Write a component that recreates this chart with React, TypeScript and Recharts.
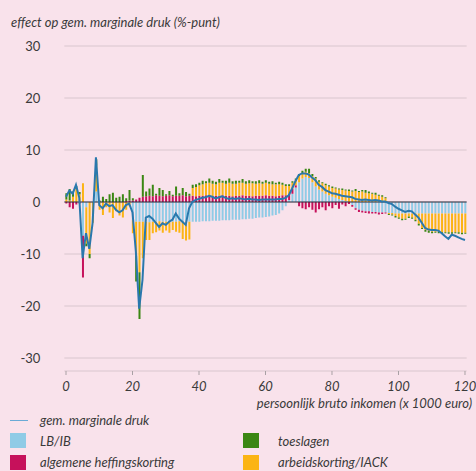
import React from 'react';
import {
    ComposedChart,
    Bar,
    Line,
    XAxis,
    YAxis,
    CartesianGrid,
    ReferenceLine,
} from 'recharts';

// inkomen in 1000 euro, één staaf per 1000 euro
const incomes = Array.from({ length: 121 }, (_, i) => i);

// LB/IB
const lbib = [
    0, 0, 0, 0, 0,
    -6.5, -1, 0, 0, 2,
    0, 0, 0, 0, 0, 0, 0, 0, 0, 0,
    -3.5, -3.8, -3.8, -3.8, -3.8, -3.9, -3.8, -3.8, -3.7, -3.8,
    -3.8, -3.9, -3.8, -3.8, -3.7, -3.8, -3.8, -3.8, -3.8, -3.8,
    -3.8, -3.7, -3.7, -3.7, -3.6, -3.6, -3.6, -3.5, -3.5, -3.5,
    -3.4, -3.4, -3.4, -3.3, -3.3, -3.2, -3.2, -3.1, -3.0, -3.0,
    -2.9, -2.8, -2.6, -2.5, -2.2, -1.6, -0.8, 0.4, 1.6, 2.8,
    3.8, 4.5, 4.8, 4.6, 3.8, 3.0, 2.4, 2.0, 1.6, 1.3,
    1.0, 0.8, 0.6, 0.4, 0.2, 0, -0.6, -1.2, -1.5, -1.7,
    -1.8, -1.8, -1.9, -1.9, -2.0, -2.0, -2.0, -2.1, -2.1, -2.2,
    -2.2, -2.2, -2.2, -2.2, -2.2, -2.2, -2.2, -2.2, -2.2, -2.2,
    -2.2, -2.2, -2.2, -2.2, -2.2, -2.2, -2.2, -2.2, -2.2, -2.2, -2.2,
];

// algemene heffingskorting
const ahk = [
    -0.3, -1.0, -1.3, -0.5, -0.3,
    -8.0, 0, 0, 0, 0,
    0, 0, 0, 0, 0, 0, 0, 0, 0.2, 0.3,
    0.3, 0.5, 0.8, 1.0, 1.1, 1.2, 1.1, 1.3, 1.2, 1.1,
    1.2, 1.3, 1.1, 1.2, 1.2, 1.3, 1.1, 1.2, 1.2, 1.1,
    1.2, 1.2, 1.3, 1.2, 1.1, 1.2, 1.2, 1.3, 1.2, 1.2,
    1.1, 1.2, 1.2, 1.3, 1.2, 1.2, 1.1, 1.2, 1.2, 1.2,
    1.3, 1.2, 1.2, 1.1, 1.2, 1.3, 1.3, 1.2, 0.9, 0.4,
    -0.8, -1.2, -1.4, -1.0, -1.5, -2.0, -1.4, -1.0, -1.6, -0.8,
    -1.2, -0.6, -1.3, -0.5, -0.8, -0.4, -0.3, -0.3, -0.4, -0.3,
    -0.3, -0.4, -0.3, -0.3, -0.4, -0.3, -0.2, 0, 0, 0,
    0, 0, 0, 0, 0, 0, 0, 0, 0, 0,
    0, 0, 0, 0, 0, 0, 0, 0, 0, 0, 0,
];

// toeslagen
const toeslagen = [
    1.2, 2.2, 1.0, 0.6, 0.4,
    0, -0.5, -0.8, 0, 1.2,
    0.3, 1.0, 0.6, 1.5, 1.8, 0.8, 1.0, 1.5, 0.5, 2.0,
    0.4, -5.0, -9.0, 4.2, 0.9, 1.4, 2.2, 0.3, 1.5, 1.2,
    0.3, 0.8, 0.3, 1.8, 0.5, 1.4, 0.8, 0.4, 0.6, 0.5,
    0.5, 0.7, 0.4, 0.8, 0.6, 0.5, 0.7, 0.4, 0.6, 0.8,
    0.5, 0.6, 0.4, 0.7, 0.5, 0.6, 0.4, 0.5, 0.6, 0.4,
    0.5, 0.4, 0.6, 0.3, 0.5, 0.4, 0.3, 0.3, 0.3, 0.3,
    0.4, 0.5, 0.6, 0.8, 0.4, 0.3, 0.3, 0.2, 0.3, 0.2,
    0.3, 0.2, 0.2, 0.3, 0.2, 0.3, 0.2, 0.4, 0.2, 0.3,
    0.5, 0.3, 0.2, 0.4, 0.2, 0.3, 0.2, -0.2, -0.2, -0.3,
    -0.2, -0.3, -0.2, -0.3, -0.2, -0.3, -0.3, -0.2, -0.3, -0.3,
    -0.3, -0.2, -0.3, -0.3, -0.2, -0.3, -0.3, -0.2, -0.3, -0.3, -0.2,
];

// arbeidskorting/IACK
const arbeidskorting = [
    0.5, 0.3, 1.0, 2.5, 1.5,
    3.6, -7.0, -10.0, -4.0, 5.0,
    -1.5, -2.5, -1.0, -2.0, -3.1, -1.8, -2.6, -3.0, -1.5, -0.8,
    -2.5, -6.5, -9.7, -7.0, -3.5, -3.4, -2.2, -2.0, -1.8, -2.1,
    -1.7, -2.0, -1.6, -1.9, -2.2, -3.3, -3.6, -3.4, 1.5, 1.8,
    2.0, 2.2, 2.3, 2.5, 2.4, 2.2, 2.5, 2.4, 2.3, 2.5,
    2.4, 2.3, 2.5, 2.4, 2.3, 2.4, 2.5, 2.3, 2.4, 2.3,
    2.4, 2.3, 2.2, 2.3, 2.2, 2.0, 1.8, 1.5, 1.2, 1.0,
    1.2, 1.0, 1.0, 1.0, 1.2, 1.5, 1.5, 1.6, 1.6, 1.7,
    1.7, 1.8, 1.8, 1.9, 2.0, 2.1, 2.0, 2.1, 1.9, 2.0,
    1.8, 1.7, 1.6, 1.4, 1.2, 1.0, 0.7, -0.2, -0.3, -0.5,
    -0.8, -1.0, -1.0, -0.6, -0.8, -1.2, -2.0, -2.8, -3.2, -3.4,
    -3.5, -3.5, -3.5, -3.6, -3.6, -3.6, -3.6, -3.6, -3.6, -3.7, -3.7,
];

// gem. marginale druk
const druk = [
    1.0, 2.2, 1.6, 3.3, 0.8,
    -10.8, -6.0, -9.0, -4.0, 8.6,
    -0.6, -1.2, -0.3, -0.8, -0.6, -1.5, -2.0, -1.6, -0.6, -0.3,
    -2.0, -9.5, -20.5, -15.0, -3.0, -2.7, -3.2, -4.0, -4.8, -4.1,
    -4.4, -3.8, -3.4, -2.2, -3.2, -3.8, -4.4, -1.2, 0.0, 0.4,
    0.6, 0.8, 0.9, 1.2, 1.0, 0.7, 0.9, 1.1, 0.8, 0.6,
    0.7, 0.6, 0.7, 0.6, 0.5, 0.6, 0.5, 0.5, 0.4, 0.5,
    0.5, 0.5, 0.5, 0.5, 0.6, 0.6, 0.8, 1.3, 2.6, 4.0,
    5.2, 5.5, 5.5, 5.3, 4.7, 4.2, 3.3, 2.9, 2.3, 2.0,
    1.7, 1.6, 1.4, 1.2, 1.1, 1.0, 0.9, 0.6, 0.5, 0.4,
    0.5, 0.4, 0.3, 0.4, 0.3, 0.1, 0.1, -0.2, -0.4, -0.9,
    -1.3, -1.6, -1.9, -1.7, -1.8, -2.4, -3.0, -4.0, -5.0, -5.3,
    -5.4, -5.4, -5.5, -6.0, -6.6, -7.1, -6.3, -6.5, -6.8, -7.1, -7.3,
];

const yTicks = [-30, -20, -10, 0, 10, 20, 30];

const BG = '#f9e2eb';
const TEXT = '#3a3a3a';
const FONT = 'Lato, "Open Sans", sans-serif';

const C_LBIB = '#8fcbe6';
const C_AHK = '#c6115b';
const C_TOES = '#3b8713';
const C_AK = '#fbb414';
const C_LINE = '#2a78ad';

const data = incomes.map((x, i) => ({
    x,
    lbib: lbib[i],
    ahk: ahk[i],
    toeslagen: toeslagen[i],
    ak: arbeidskorting[i],
    druk: druk[i],
}));

const Swatch = ({ color }: { color: string }) => (
    <span style={{ display: 'inline-block', width: 16, height: 15, background: color }} />
);

const App: React.FC = () => {
    const tick = { fill: TEXT, fontSize: 13, fontFamily: FONT };
    return (
        <div style={{ position: 'absolute', left: 0, top: 0, width: 476, height: 471, background: BG, overflow: 'hidden', fontFamily: FONT, color: TEXT }}>
            <ComposedChart
                width={476}
                height={471}
                data={data}
                stackOffset="sign"
                margin={{ top: 46, right: 9.35, bottom: 70, left: 4.35 }}
            >
                <CartesianGrid vertical={false} stroke="#d9c6ce" />
                <XAxis
                    dataKey="x"
                    interval={19}
                    axisLine={false}
                    tickLine={{ stroke: '#a9a0a4' }}
                    tickSize={4}
                    tickMargin={7}
                    height={30}
                    tick={{ ...tick, fontStyle: 'italic' }}
                />
                <YAxis
                    domain={[-32.5, 30]}
                    ticks={yTicks}
                    allowDataOverflow
                    width={60}
                    axisLine={false}
                    tickLine={false}
                    tickSize={0}
                    tickMargin={24}
                    tick={tick}
                />
                <Bar dataKey="lbib" stackId="a" fill={C_LBIB} barSize={2} isAnimationActive={false} />
                <Bar dataKey="ahk" stackId="a" fill={C_AHK} barSize={2} isAnimationActive={false} />
                <Bar dataKey="ak" stackId="a" fill={C_AK} barSize={2} isAnimationActive={false} />
                <Bar dataKey="toeslagen" stackId="a" fill={C_TOES} barSize={2} isAnimationActive={false} />
                <ReferenceLine y={0} stroke="#2d2d3c" strokeWidth={1.2} />
                <Line
                    type="linear"
                    dataKey="druk"
                    stroke={C_LINE}
                    strokeWidth={2}
                    dot={false}
                    isAnimationActive={false}
                />
            </ComposedChart>

            <div style={{ position: 'absolute', left: 11, top: 13, fontSize: 13, lineHeight: '18px', fontStyle: 'italic' }}>
                effect op gem. marginale druk (%-punt)
            </div>
            <div style={{ position: 'absolute', right: 4, top: 394, fontSize: 13, lineHeight: '18px', fontStyle: 'italic' }}>
                persoonlijk bruto inkomen (x 1000 euro)
            </div>

            {/* legenda */}
            <div style={{ position: 'absolute', left: 10, top: 420, width: 18, height: 1, background: '#6aaad6' }} />
            <div style={{ position: 'absolute', left: 40, top: 411, fontSize: 13, lineHeight: '18px', fontStyle: 'italic' }}>
                gem. marginale druk
            </div>
            <div style={{ position: 'absolute', left: 10, top: 433, height: 15, display: 'flex' }}><Swatch color={C_LBIB} /></div>
            <div style={{ position: 'absolute', left: 40, top: 431.5, fontSize: 13, lineHeight: '18px', fontStyle: 'italic' }}>LB/IB</div>
            <div style={{ position: 'absolute', left: 243, top: 433, height: 15, display: 'flex' }}><Swatch color={C_TOES} /></div>
            <div style={{ position: 'absolute', left: 278, top: 431.5, fontSize: 13, lineHeight: '18px', fontStyle: 'italic' }}>toeslagen</div>
            <div style={{ position: 'absolute', left: 10, top: 455, height: 15, display: 'flex' }}><Swatch color={C_AHK} /></div>
            <div style={{ position: 'absolute', left: 40, top: 453, fontSize: 13, lineHeight: '18px', fontStyle: 'italic' }}>algemene heffingskorting</div>
            <div style={{ position: 'absolute', left: 243, top: 455, height: 15, display: 'flex' }}><Swatch color={C_AK} /></div>
            <div style={{ position: 'absolute', left: 278, top: 453, fontSize: 13, lineHeight: '18px', fontStyle: 'italic' }}>arbeidskorting/IACK</div>
        </div>
    );
};

export default App;
